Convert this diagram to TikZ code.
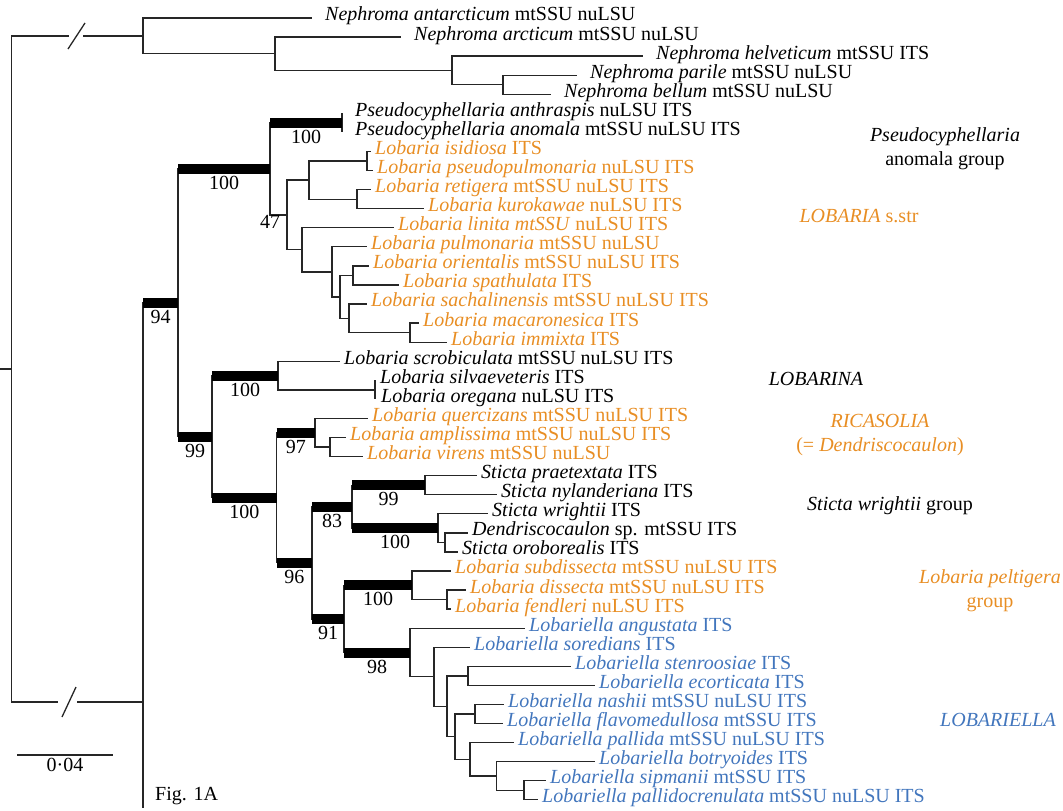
\documentclass[tikz,border=0pt]{standalone}
\usepackage{fontspec}
\setmainfont{Liberation Serif}
\definecolor{lobora}{RGB}{232,142,36}
\definecolor{lobblue}{RGB}{66,118,189}
\tikzset{
  leaf/.style={anchor=west, inner xsep=4pt, inner ysep=0pt, text height=1.3ex, text depth=0pt},
  nleaf/.style={leaf, inner xsep=13pt},
  supbar/.style={line width=10pt, line cap=butt},
  support/.style={below=9pt, inner sep=0pt, text height=1.45ex, text depth=0pt},
  group/.style={align=center, font=\fontsize{20}{24}\selectfont}
}
\begin{document}
\begin{tikzpicture}[x=1pt, y=-1pt, font=\fontsize{20}{24}\selectfont]
  \useasboundingbox (0,0) rectangle (1063,811);
  % taxa
  \node[nleaf] (l1) at (312,18.0) {\textit{Nephroma antarcticum} mtSSU nuLSU};
  \node[nleaf] (l2) at (401,37.1) {\textit{Nephroma arcticum} mtSSU nuLSU};
  \node[nleaf] (l3) at (643,56.1) {\textit{Nephroma helveticum} mtSSU ITS};
  \node[nleaf] (l4) at (577,75.2) {\textit{Nephroma parile} mtSSU nuLSU};
  \node[nleaf] (l5) at (551,94.3) {\textit{Nephroma bellum} mtSSU nuLSU};
  \node[nleaf] (l6) at (342,113.4) {\textit{Pseudocyphellaria anthraspis} nuLSU ITS};
  \node[nleaf] (l7) at (342,132.4) {\textit{Pseudocyphellaria anomala} mtSSU nuLSU ITS};
  \node[leaf, lobora] (l8) at (371,151.5) {\textit{Lobaria isidiosa} ITS};
  \node[leaf, lobora] (l9) at (373,170.6) {\textit{Lobaria pseudopulmonaria} nuLSU ITS};
  \node[leaf, lobora] (l10) at (371,189.6) {\textit{Lobaria retigera} mtSSU nuLSU ITS};
  \node[leaf, lobora] (l11) at (424,208.7) {\textit{Lobaria kurokawae} nuLSU ITS};
  \node[leaf, lobora] (l12) at (394,227.8) {\textit{Lobaria linita mtSSU} nuLSU ITS};
  \node[leaf, lobora] (l13) at (367,246.8) {\textit{Lobaria pulmonaria} mtSSU nuLSU};
  \node[leaf, lobora] (l14) at (369,265.9) {\textit{Lobaria orientalis} mtSSU nuLSU ITS};
  \node[leaf, lobora] (l15) at (399,285.0) {\textit{Lobaria spathulata} ITS};
  \node[leaf, lobora] (l16) at (367,304.0) {\textit{Lobaria sachalinensis} mtSSU nuLSU ITS};
  \node[leaf, lobora] (l17) at (419,323.1) {\textit{Lobaria macaronesica} ITS};
  \node[leaf, lobora] (l18) at (447,342.2) {\textit{Lobaria immixta} ITS};
  \node[leaf] (l19) at (340,361.3) {\textit{Lobaria scrobiculata} mtSSU nuLSU ITS};
  \node[leaf] (l20) at (376,380.3) {\textit{Lobaria silvaeveteris} ITS};
  \node[leaf] (l21) at (377,399.4) {\textit{Lobaria oregana} nuLSU ITS};
  \node[leaf, lobora] (l22) at (368,418.5) {\textit{Lobaria quercizans} mtSSU nuLSU ITS};
  \node[leaf, lobora] (l23) at (346,437.5) {\textit{Lobaria amplissima} mtSSU nuLSU ITS};
  \node[leaf, lobora] (l24) at (363,456.6) {\textit{Lobaria virens} mtSSU nuLSU};
  \node[leaf] (l25) at (477,475.7) {\textit{Sticta praetextata} ITS};
  \node[leaf] (l26) at (497,494.7) {\textit{Sticta nylanderiana} ITS};
  \node[leaf] (l27) at (488,513.8) {\textit{Sticta wrightii} ITS};
  \node[leaf] (l28) at (468,532.9) {\textit{Dendriscocaulon} sp. mtSSU ITS};
  \node[leaf] (l29) at (458,551.9) {\textit{Sticta oroborealis} ITS};
  \node[leaf, lobora] (l30) at (451,571.0) {\textit{Lobaria subdissecta} mtSSU nuLSU ITS};
  \node[leaf, lobora] (l31) at (466,590.1) {\textit{Lobaria dissecta} mtSSU nuLSU ITS};
  \node[leaf, lobora] (l32) at (451,609.1) {\textit{Lobaria fendleri} nuLSU ITS};
  \node[leaf, lobblue] (l33) at (525,628.2) {\textit{Lobariella angustata} ITS};
  \node[leaf, lobblue] (l34) at (470,647.3) {\textit{Lobariella soredians} ITS};
  \node[leaf, lobblue] (l35) at (571,666.3) {\textit{Lobariella stenroosiae} ITS};
  \node[leaf, lobblue] (l36) at (595,685.4) {\textit{Lobariella ecorticata} ITS};
  \node[leaf, lobblue] (l37) at (504,704.5) {\textit{Lobariella nashii} mtSSU nuLSU ITS};
  \node[leaf, lobblue] (l38) at (503,723.5) {\textit{Lobariella flavomedullosa} mtSSU ITS};
  \node[leaf, lobblue] (l39) at (514,742.6) {\textit{Lobariella pallida} mtSSU nuLSU ITS};
  \node[leaf, lobblue] (l40) at (595,761.7) {\textit{Lobariella botryoides} ITS};
  \node[leaf, lobblue] (l41) at (546,780.8) {\textit{Lobariella sipmanii} mtSSU ITS};
  \node[leaf, lobblue] (l42) at (538,799.8) {\textit{Lobariella pallidocrenulata} mtSSU nuLSU ITS};
  % group names
  \node[group] (gpseudo) at (945,149) {\textit{Pseudocyphellaria}\\anomala group};
  \node[group, lobora] (globaria) at (859,216) {\textit{LOBARIA} s.str};
  \node[group] (globarina) at (816,379) {\textit{LOBARINA}};
  \node[group, lobora] (gricasolia) at (880,435) {\textit{RICASOLIA}\\(= \textit{Dendriscocaulon})};
  \node[group] (gsticta) at (890,506) {\textit{Sticta wrightii} group};
  \node[group, lobora] (gpeltigera) at (990,591) {\textit{Lobaria peltigera}\\group};
  \node[group, lobblue] (globariella) at (998,720) {\textit{LOBARIELLA}};
  \node[anchor=west, inner sep=0pt] (fig) at (155,796) {Fig. 1A};
  % inner nodes
  \coordinate (root) at (0,368.95);
  \coordinate (R) at (11.4,368.95);
  \coordinate (brk1a) at (69,35.9);
  \coordinate (brk1b) at (83,35.9);
  \coordinate (brk2a) at (58,702);
  \coordinate (brk2b) at (77,702);
  \coordinate (N1) at (143,35.9);
  \coordinate (N2) at (275,53.8);
  \coordinate (N3) at (452,70.4);
  \coordinate (N4) at (503,84.75);
  \coordinate (I) at (143,702);
  \coordinate (stem) at (143,808);
  \coordinate (A) at (178,302.85);
  \coordinate (B) at (270,169.0);
  \coordinate (P) at (342,122.9);
  \coordinate (L47) at (287,215.0);
  \coordinate (L1) at (309,180.1);
  \coordinate (L1a) at (367,161.05);
  \coordinate (L1b) at (357,199.15);
  \coordinate (L2) at (302,249.8);
  \coordinate (L3) at (332,271.85);
  \coordinate (L4) at (340,296.9);
  \coordinate (L5) at (353,275.45);
  \coordinate (L6) at (349,318.3);
  \coordinate (L7) at (410,332.65);
  \coordinate (C) at (212,436.7);
  \coordinate (D) at (278,375.6);
  \coordinate (D2) at (375,389.85);
  \coordinate (E) at (276.5,497.8);
  \coordinate (F) at (315,432.8);
  \coordinate (F2) at (330,447.05);
  \coordinate (G) at (312,562.8);
  \coordinate (H) at (352,506.65);
  \coordinate (H1) at (425,485.2);
  \coordinate (H2) at (438,528.1);
  \coordinate (H3) at (445,542.4);
  \coordinate (K) at (344,618.9);
  \coordinate (K1) at (412,585.3);
  \coordinate (K2) at (447,599.6);
  \coordinate (M) at (410,652.5);
  \coordinate (M1) at (434,676.8);
  \coordinate (M2) at (447,706.25);
  \coordinate (M3) at (468,675.85);
  \coordinate (M4) at (455,736.65);
  \coordinate (M5) at (475,714.0);
  \coordinate (M6) at (470,759.3);
  \coordinate (M7) at (496.6,776.0);
  \coordinate (M8) at (524,790.3);
  \begin{scope}[line width=1.3pt, black!85]
    \draw (root) -- (R);
    \draw (R) |- (brk1a);
    \draw (brk1b) -- (N1);
    \draw (68,49) -- (85,23);
    \draw (R) |- (brk2a);
    \draw (brk2b) -- (I);
    \draw (62,717) -- (76,687);
    \draw (N1) |- (l1.west);
    \draw (N1) |- (N2);
    \draw (N2) |- (l2.west);
    \draw (N2) |- (N3);
    \draw (N3) |- (l3.west);
    \draw (N3) |- (N4);
    \draw (N4) |- (l4.west);
    \draw (N4) |- (l5.west);
    \draw (I) -- (stem);
    \draw (I) |- (A);
    \draw (A) |- (B);
    \draw (A) |- (C);
    \draw (B) |- (P);
    \draw (B) |- (L47);
    \draw (P |- l6.west) -- (P |- l7.west);
    \draw (L47) |- (L1);
    \draw (L47) |- (L2);
    \draw (L1) |- (L1a);
    \draw (L1) |- (L1b);
    \draw (L1a) |- (l8.west);
    \draw (L1a) |- (l9.west);
    \draw (L1b) |- (l10.west);
    \draw (L1b) |- (l11.west);
    \draw (L2) |- (l12.west);
    \draw (L2) |- (L3);
    \draw (L3) |- (l13.west);
    \draw (L3) |- (L4);
    \draw (L4) |- (L5);
    \draw (L4) |- (L6);
    \draw (L5) |- (l14.west);
    \draw (L5) |- (l15.west);
    \draw (L6) |- (l16.west);
    \draw (L6) |- (L7);
    \draw (L7) |- (l17.west);
    \draw (L7) |- (l18.west);
    \draw (C) |- (D);
    \draw (C) |- (E);
    \draw (D) |- (l19.west);
    \draw (D) |- (D2);
    \draw (D2 |- l20.west) -- (D2 |- l21.west);
    \draw (E) |- (F);
    \draw (E) |- (G);
    \draw (F) |- (l22.west);
    \draw (F) |- (F2);
    \draw (F2) |- (l23.west);
    \draw (F2) |- (l24.west);
    \draw (G) |- (H);
    \draw (G) |- (K);
    \draw (H) |- (H1);
    \draw (H) |- (H2);
    \draw (H1) |- (l25.west);
    \draw (H1) |- (l26.west);
    \draw (H2) |- (l27.west);
    \draw (H2) |- (H3);
    \draw (H3) |- (l28.west);
    \draw (H3) |- (l29.west);
    \draw (K) |- (K1);
    \draw (K) |- (M);
    \draw (K1) |- (l30.west);
    \draw (K1) |- (K2);
    \draw (K2) |- (l31.west);
    \draw (K2) |- (l32.west);
    \draw (M) |- (l33.west);
    \draw (M) |- (M1);
    \draw (M1) |- (l34.west);
    \draw (M1) |- (M2);
    \draw (M2) |- (M3);
    \draw (M2) |- (M4);
    \draw (M3) |- (l35.west);
    \draw (M3) |- (l36.west);
    \draw (M4) |- (M5);
    \draw (M4) |- (M6);
    \draw (M5) |- (l37.west);
    \draw (M5) |- (l38.west);
    \draw (M6) |- (l39.west);
    \draw (M6) |- (M7);
    \draw (M7) |- (l40.west);
    \draw (M7) |- (M8);
    \draw (M8) |- (l41.west);
    \draw (M8) |- (l42.west);
  \end{scope}
  % supported branches
  \draw[supbar] (I |- A) -- node[support]{94} (A);
  \draw[supbar] (A |- B) -- node[support]{100} (B);
  \draw[supbar] (B |- P) -- node[support]{100} (P);
  \draw[supbar] (A |- C) -- node[support]{99} (C);
  \draw[supbar] (C |- D) -- node[support]{100} (D);
  \draw[supbar] (C |- E) -- node[support]{100} (E);
  \draw[supbar] (E |- F) -- node[support]{97} (F);
  \draw[supbar] (E |- G) -- node[support]{96} (G);
  \draw[supbar] (G |- H) -- node[support]{83} (H);
  \draw[supbar] (H |- H1) -- node[support]{99} (H1);
  \draw[supbar] (H |- H2) -- node[support]{100} (H2);
  \draw[supbar] (G |- K) -- node[support]{91} (K);
  \draw[supbar] (K |- K1) -- node[support]{100} (K1);
  \draw[supbar] (K |- M) -- node[support]{98} (M);
  \node[support, yshift=2pt] (s47) at (B |- L47) {47};
  % scale
  \coordinate (sb1) at (17,755);
  \coordinate (sb2) at (113,755);
  \draw[line width=1.3pt, black!85] (sb1) -- node[below=9pt, inner sep=0pt, text height=1.45ex, text depth=0pt, black]{0·04} (sb2);
\end{tikzpicture}
\end{document}
